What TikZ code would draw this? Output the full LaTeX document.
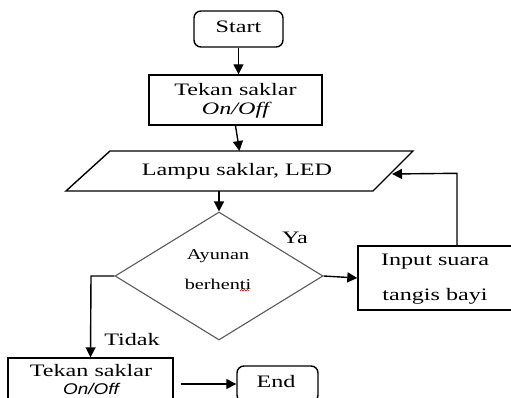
\documentclass[tikz,border=0pt]{standalone}
\usepackage{graphicx}
\usepackage{fontspec}
\setmainfont{Liberation Serif}
\newfontfamily\arialfam{Liberation Sans}
\newcommand\sxx[1]{\scalebox{1.38}[1]{#1}}
\usetikzlibrary{shapes.geometric,arrows.meta}
\begin{document}
\begin{tikzpicture}[x=1pt,y=-1pt,
  txt/.style={font=\fontsize{17.5}{20}\selectfont, inner sep=0pt},
  boxa/.style={draw, line width=1.4pt, inner sep=0pt, font=\fontsize{17.5}{20}\selectfont, align=center},
  rbox/.style={boxa, rounded corners=7pt},
  conn/.style={line width=1.4pt, -{Triangle[length=10pt,width=10pt]}},
  plain/.style={line width=1.4pt}
]
\useasboundingbox (0,0) rectangle (511,398);
% Start
\node[rbox, minimum width=89pt, minimum height=36pt] (start) at (238.5,29) {};
\node[txt] (starttxt) at (238.5,27) {\sxx{Start}};
% Tekan saklar 1
\node[boxa, minimum width=173pt, minimum height=50pt] (tekan1) at (235.5,100) {};
\node[txt] (t1a) at (235.5,90) {\sxx{Tekan saklar}};
\node[txt] (t1b) at (235.5,110) {\sxx{\itshape On/Off}};
% Parallelogram
\draw[plain] (110,151) -- (413,151) -- (373,191) -- (66,191) -- cycle;
\node[txt] (lampu) at (237,171) {\sxx{Lampu saklar, LED}};
\coordinate (lamptop) at (239.5,151);
\coordinate (lampbot) at (219,191);
\coordinate (lampin) at (392,174);
% Diamond
\node[draw=black!65, line width=1.1pt, diamond, minimum width=208pt, minimum height=128pt, inner sep=0pt] (dia) at (219,276) {};
\node[font=\fontsize{15}{16}\selectfont, inner sep=0pt] (ay) at (218,256) {\scalebox{1.35}[1]{Ayunan}};
\node[font=\fontsize{15}{16}\selectfont, inner sep=0pt] (be) at (218,284) {\scalebox{1.35}[1]{berhenti}};
\draw[red!80!black, line width=0.6pt] (240,291) -- (241.5,289.5) -- (243,291) -- (244.5,289.5) -- (246,291) -- (247.5,289.5) -- (249,291);
% Input
\node[boxa, minimum width=155pt, minimum height=64pt] (input) at (435.5,278) {};
\node[txt] (in1) at (435,262) {\sxx{Input suara}};
\node[txt] (in2) at (435,296) {\sxx{tangis bayi}};
% Tekan saklar 2
\node[boxa, minimum width=165pt, minimum height=50pt] (tekan2) at (90.5,383) {};
\node[txt] (t2a) at (91,371) {\sxx{Tekan saklar}};
\node[font=\fontsize{15.5}{17}\selectfont\arialfam\itshape, inner sep=0pt] (t2b) at (91,388.5) {\scalebox{1.22}[1]{On/Off}};
% End
\node[rbox, minimum width=81pt, minimum height=36pt] (end) at (277.5,384) {};
\node[txt] (endtxt) at (276,382) {\sxx{End}};
% labels
\node[txt] (ya) at (295,238) {\sxx{Ya}};
\node[txt] (tidak) at (132,340) {\sxx{Tidak}};
% connectors
\draw[conn] (start.south) -- (start.south |- tekan1.north);
\draw[conn] (tekan1.south) -- (lamptop);
\draw[conn] (lampbot) -- (dia.north);
\draw[conn] (dia.east) -- (input.west);
\draw[conn] ([xshift=21.5pt]input.north) -- ++(0,-72) -- (lampin);
\draw[conn] (dia.west) -- (91,276) -- (tekan2.north);
\draw[conn] ([xshift=7pt]tekan2.east |- end.west) -- (end.west);
\end{tikzpicture}
\end{document}
